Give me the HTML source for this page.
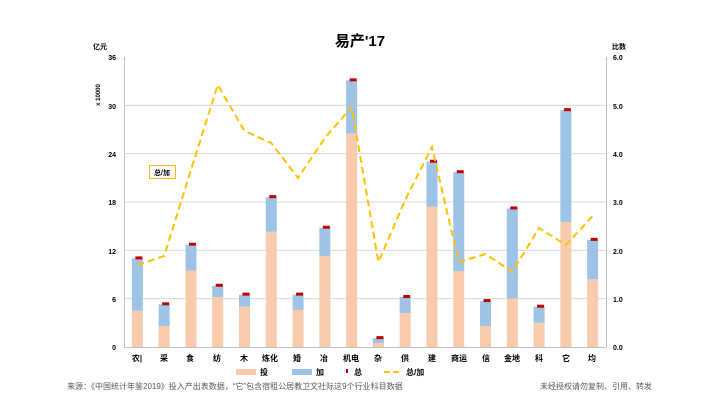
<!DOCTYPE html>
<html><head><meta charset="utf-8"><style>
body{margin:0;background:#fff;width:720px;height:405px;overflow:hidden}
svg{display:block}
text{font-family:"Liberation Sans","Noto Sans CJK SC",sans-serif}
</style></head><body>
<svg id="s" width="720" height="405" xmlns="http://www.w3.org/2000/svg">
<text x="360" y="46" text-anchor="middle" font-size="15" font-weight="bold" font-family="Liberation Serif,Noto Serif CJK SC,serif">易产'17</text>
<text x="93" y="49" font-size="7" font-weight="bold">亿元</text>
<text x="612" y="49" font-size="7" font-weight="bold">比数</text>
<text x="100" y="95" font-size="6" font-weight="bold" transform="rotate(-90 100 95)" text-anchor="middle">x 10000</text>
<g id="grid" stroke="#d9d9d9" stroke-width="1"></g>
<line x1="124.5" y1="57" x2="124.5" y2="347" stroke="#bfbfbf"/>
<line x1="606.5" y1="57" x2="606.5" y2="347" stroke="#bfbfbf"/>
<line x1="124" y1="347.5" x2="606" y2="347.5" stroke="#bfbfbf"/>
<g font-size="7" font-weight="bold" text-anchor="end">
<text x="116" y="60">36</text><text x="116" y="109">30</text><text x="116" y="157">24</text><text x="116" y="205">18</text><text x="116" y="254">12</text><text x="116" y="302">6</text><text x="116" y="350">0</text>
</g>
<g font-size="7" font-weight="bold">
<text x="613" y="60">6.0</text><text x="613" y="109">5.0</text><text x="613" y="157">4.0</text><text x="613" y="205">3.0</text><text x="613" y="254">2.0</text><text x="613" y="302">1.0</text><text x="613" y="350">0.0</text>
</g>
<g id="bars"></g>
<g font-size="8" font-weight="bold" text-anchor="middle" font-family="Liberation Serif,Noto Serif CJK SC,serif">
<text x="137" y="361">农|</text><text x="164" y="361">采</text><text x="190" y="361">食</text><text x="217" y="361">纺</text><text x="244" y="361">木</text><text x="270" y="361">炼化</text><text x="297" y="361">婚</text><text x="324" y="361">冶</text><text x="351" y="361">机电</text><text x="378" y="361">杂</text><text x="405" y="361">供</text><text x="432" y="361">建</text><text x="459" y="361">商运</text><text x="486" y="361">信</text><text x="512" y="361">金地</text><text x="539" y="361">科</text><text x="566" y="361">它</text><text x="592" y="361">均</text>
</g>
<rect x="149.5" y="165.5" width="26" height="13" fill="#fff" stroke="#ffc000"/>
<text x="162" y="175" font-size="7" text-anchor="middle" font-weight="bold">总/加</text>
<g font-size="8" font-weight="bold">
<rect x="236" y="369" width="20" height="6" fill="#f8cbad"/><text x="260" y="375">投</text>
<rect x="292" y="369" width="20" height="6" fill="#9dc3e6"/><text x="316" y="375">加</text>
<rect x="346" y="369" width="2" height="4" fill="#c00000"/><text x="354" y="375">总</text>
<line x1="384" y1="372" x2="402" y2="372" stroke="#ffc000" stroke-width="2" stroke-dasharray="6,3"/><text x="406" y="375">总/加</text>
</g>
<text x="67" y="389" font-size="8" fill="#595959">来源：《中国统计年鉴2019》投入产出表数据，“它”包含宿租公居教卫文社际这9个行业科目数据</text>
<text x="540" y="389" font-size="8" fill="#595959">未经授权请勿复制、引用、转发</text>
<polyline id="ln" fill="none" stroke="#ffc000" stroke-width="2" stroke-dasharray="7,4"/>
</svg>
<script>
var g=document.getElementById('grid'),b=document.getElementById('bars'),ns='http://www.w3.org/2000/svg';
for(var k=1;k<6;k++){var y=347-k*48.33;var l=document.createElementNS(ns,'line');l.setAttribute('x1',124);l.setAttribute('x2',606);l.setAttribute('y1',y);l.setAttribute('y2',y);g.appendChild(l);}
var tot=[11,5.3,12.7,7.6,6.5,18.6,6.5,14.8,33.1,1.1,6.2,23,21.7,5.7,17.2,5,29.4,13.3];
var inv=[4.5,2.6,9.5,6.2,5,14.3,4.6,11.3,26.5,0.5,4.2,17.4,9.4,2.6,6,3,15.5,8.4];
var ly=[265,256,170,85,131,143,178,138,107,262,200,147,262,254,272,228,245,216];
var s=8.056,pts=[];
function r(x,y,w,h,f){var e=document.createElementNS(ns,'rect');e.setAttribute('x',x);e.setAttribute('y',y);e.setAttribute('width',w);e.setAttribute('height',h);e.setAttribute('fill',f);b.appendChild(e);}
for(var i=0;i<18;i++){var c=124+26.78*(i+0.5);var yt=347-tot[i]*s,yi=347-inv[i]*s;
r(c-5.5,yt,11,yi-yt,'#9dc3e6');r(c-5.5,yi,11,347-yi,'#f8cbad');r(c-2,yt-2,7,3,'#c00000');pts.push(c+','+ly[i]);}
document.getElementById('ln').setAttribute('points',pts.join(' '));
</script>
</body></html>
